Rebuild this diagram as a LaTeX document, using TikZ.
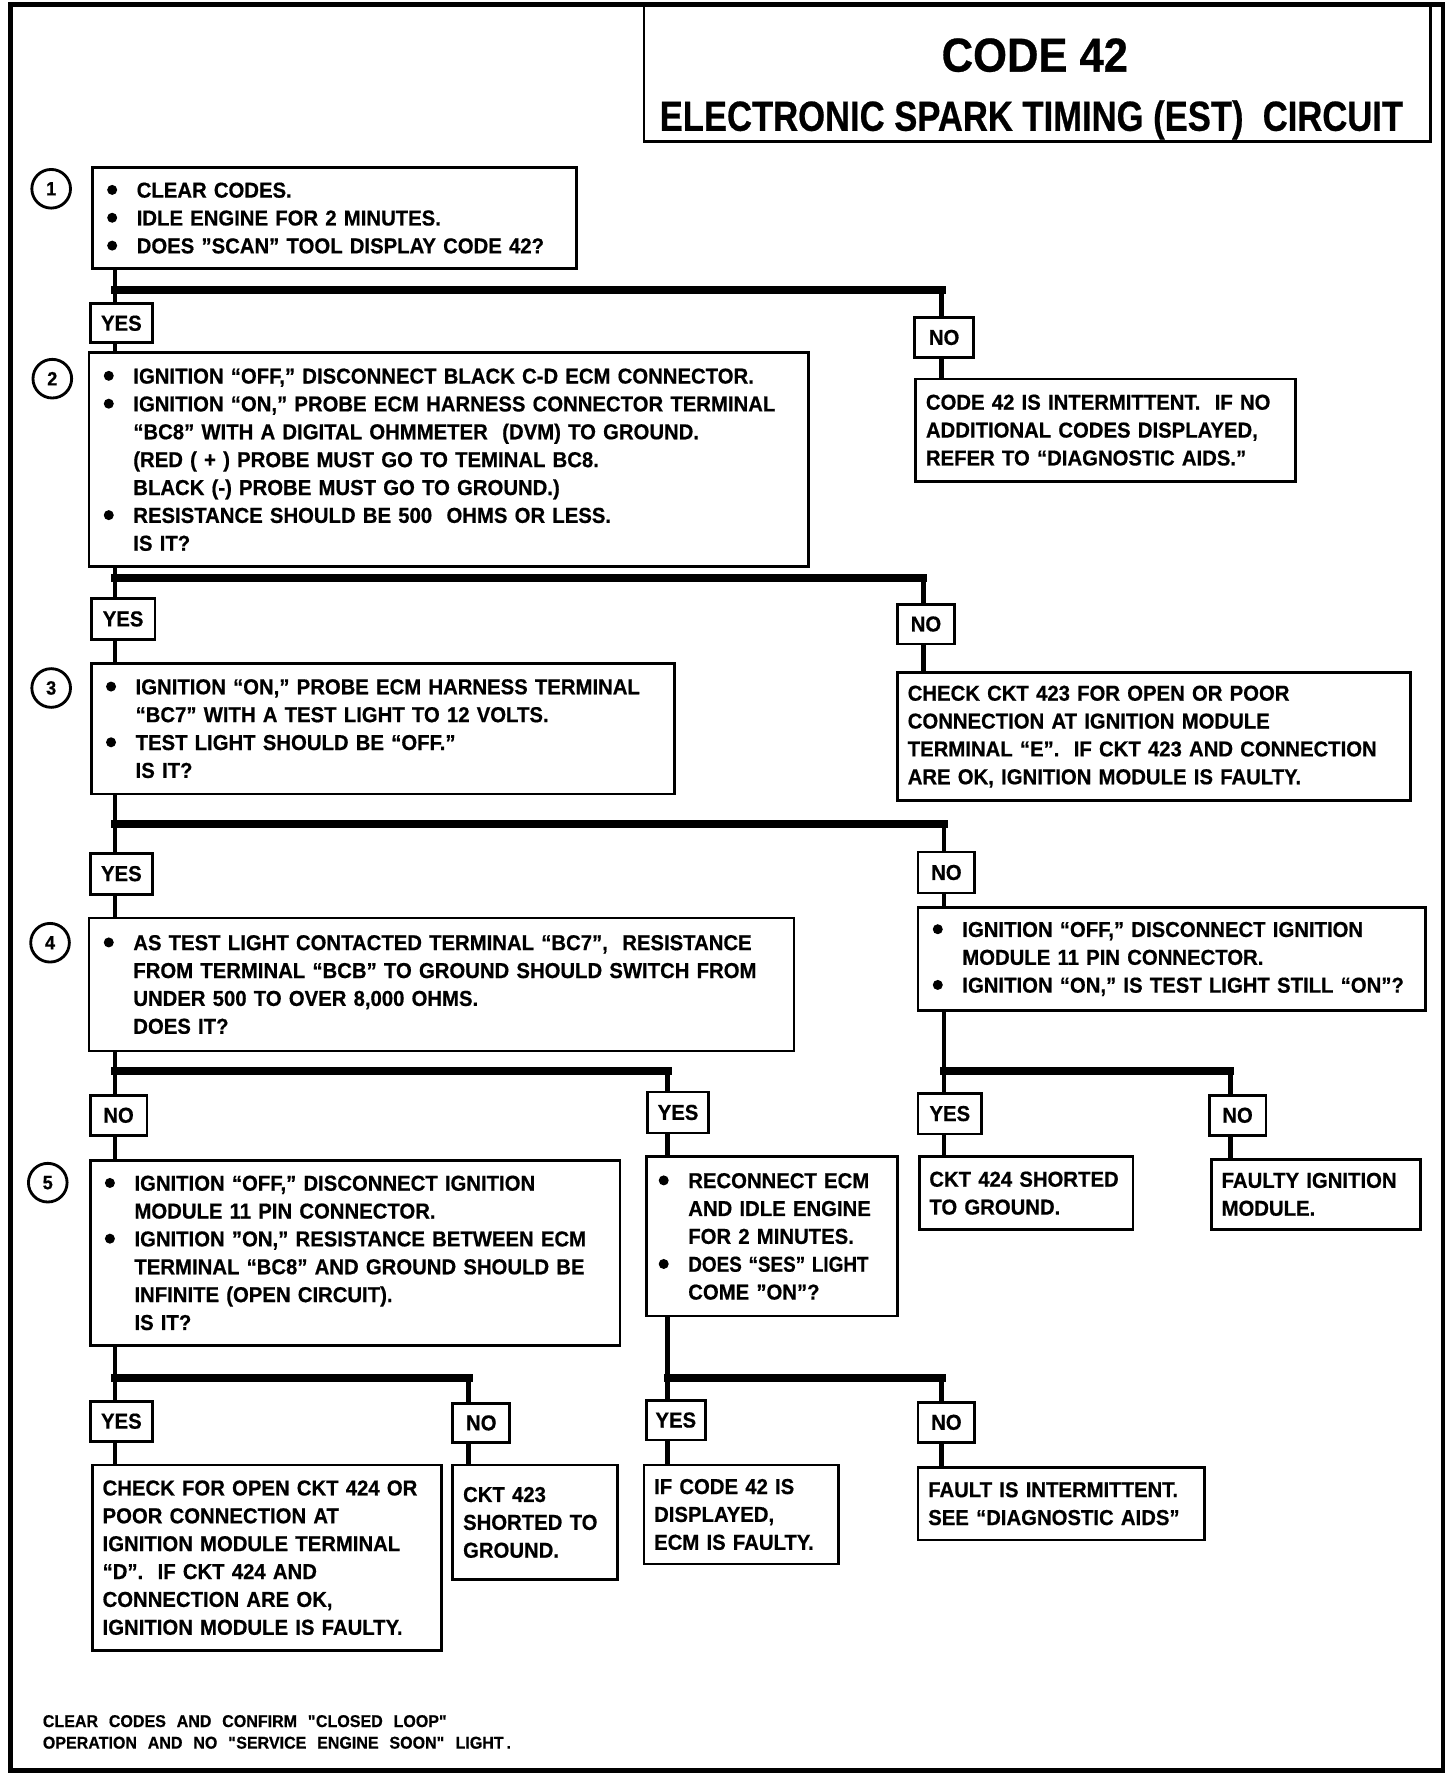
\documentclass[tikz,border=0pt]{standalone}
\usepackage{fontspec}
\setmainfont{Liberation Sans}[FakeStretch=0.94, BoldFeatures={FakeBold=0.6}]
\newcommand\bodyfont{\fontsize{19}{24.5}\selectfont\bfseries}
\newcommand\footfont{\fontsize{15}{19}\selectfont\bfseries\spaceskip=9.5pt\relax}
\newcommand\bu{\makebox[26pt][l]{\tikz[baseline=0pt]\fill (4.4pt,6.8pt) circle (4.4pt);}}
\newcommand\hg{\hspace*{26pt}}
\begin{document}
\begin{tikzpicture}[x=1pt,y=-1pt,
 box/.style={draw, line width=2.5pt, anchor=north west, inner ysep=0pt, align=left, font=\bodyfont},
 bbox/.style={box, inner xsep=13pt},
 pbox/.style={box, inner xsep=9pt},
 lab/.style={draw, line width=2.5pt, anchor=north west, inner sep=0pt, font=\bodyfont},
 vl/.style={line width=4pt},
 hb/.style={line width=7pt, line cap=rect},
 num/.style={draw, circle, line width=2.5pt, minimum size=34pt, inner sep=0pt, font=\fontsize{17}{17}\selectfont\bfseries}]
\useasboundingbox (0,0) rectangle (1280,1560);
% frame
\draw[line width=4pt] (9,4) rectangle (1269,1557);
\node[draw, line width=2.5pt, anchor=north west, minimum width=692pt, minimum height=119pt, inner sep=0pt] (tbox) at (565,4) {};
\node[anchor=base, font=\fontsize{42}{42}\selectfont\bfseries] (t1) at (910,63) {\scalebox{0.97}[1]{CODE 42}};
\node[anchor=base, font=\fontsize{37}{37}\selectfont\bfseries] (t2) at (907,115) {\scalebox{0.875}[1]{ELECTRONIC SPARK TIMING (EST)\ \ CIRCUIT}};
% step numbers
\node[num] (c1) at (45,166) {1};
\node[num] (c2) at (46,333) {2};
\node[num] (c3) at (45,605) {3};
\node[num] (c4) at (44,829) {4};
\node[num] (c5) at (42,1040) {5};
% boxes
\node[bbox, text width=400pt, minimum height=89pt] (b1) at (80,146)
 {\bu CLEAR CODES.\\ \bu IDLE ENGINE FOR 2 MINUTES.\\ \bu DOES ”SCAN” TOOL DISPLAY CODE 42?};
\node[bbox, text width=607pt, minimum height=188pt] (b2) at (77,309)
 {\bu IGNITION “OFF,” DISCONNECT BLACK C-D ECM CONNECTOR.\\
  \bu IGNITION “ON,” PROBE ECM HARNESS CONNECTOR TERMINAL\\
  \hg “BC8” WITH A DIGITAL OHMMETER\ \ (DVM) TO GROUND.\\
  \hg (RED ( + ) PROBE MUST GO TO TEMINAL BC8.\\
  \hg BLACK (-) PROBE MUST GO TO GROUND.)\\
  \bu RESISTANCE SHOULD BE 500\ \ OHMS OR LESS.\\
  \hg IS IT?};
\node[pbox, text width=316pt, minimum height=90pt] (n1) at (804,332)
 {CODE 42 IS INTERMITTENT.\ \ IF NO\\ ADDITIONAL CODES DISPLAYED,\\ REFER TO “DIAGNOSTIC AIDS.”};
\node[bbox, text width=487pt, minimum height=115pt] (b3) at (79,582)
 {\bu IGNITION “ON,” PROBE ECM HARNESS TERMINAL\\
  \hg “BC7” WITH A TEST LIGHT TO 12 VOLTS.\\
  \bu TEST LIGHT SHOULD BE “OFF.”\\
  \hg IS IT?};
\node[pbox, text width=433pt, minimum height=113pt] (n2) at (788,590)
 {CHECK CKT 423 FOR OPEN OR POOR\\ CONNECTION AT IGNITION MODULE\\ TERMINAL “E”.\ \ IF CKT 423 AND CONNECTION\\ ARE OK, IGNITION MODULE IS FAULTY.};
\node[bbox, text width=594pt, minimum height=117pt] (b4) at (77,806)
 {\bu AS TEST LIGHT CONTACTED TERMINAL “BC7”,\ \ RESISTANCE\\
  \hg FROM TERMINAL “BCB” TO GROUND SHOULD SWITCH FROM\\
  \hg UNDER 500 TO OVER 8,000 OHMS.\\
  \hg DOES IT?};
\node[bbox, text width=420pt, minimum height=90pt] (n3) at (806,797)
 {\bu IGNITION “OFF,” DISCONNECT IGNITION\\
  \hg MODULE 11 PIN CONNECTOR.\\
  \bu IGNITION “ON,” IS TEST LIGHT STILL “ON”?};
\node[bbox, text width=440pt, minimum height=163pt] (b5) at (78,1019)
 {\bu IGNITION “OFF,” DISCONNECT IGNITION\\
  \hg MODULE 11 PIN CONNECTOR.\\
  \bu IGNITION "ON," RESISTANCE BETWEEN ECM\\
  \hg TERMINAL “BC8” AND GROUND SHOULD BE\\
  \hg INFINITE (OPEN CIRCUIT).\\
  \hg IS IT?};
\node[bbox, inner xsep=11pt, text width=199pt, minimum height=140pt] (y4) at (567,1016)
 {\bu RECONNECT ECM\\ \hg AND IDLE ENGINE\\ \hg FOR 2 MINUTES.\\ \mbox{\bu \scalebox{0.93}[1]{DOES “SES” LIGHT}}\\ \hg COME "ON"?};
\node[pbox, text width=170pt, minimum height=64pt] (y3) at (807,1016)
 {CKT 424 SHORTED\\ TO GROUND.};
\node[pbox, text width=166pt, minimum height=62pt] (n4) at (1064,1018)
 {FAULTY IGNITION\\ MODULE.};
\node[pbox, text width=289pt, minimum height=163pt] (r1) at (80,1287)
 {CHECK FOR OPEN CKT 424 OR\\ POOR CONNECTION AT\\ IGNITION MODULE TERMINAL\\ “D”.\ \ IF CKT 424 AND\\ CONNECTION ARE OK,\\ IGNITION MODULE IS FAULTY.};
\node[pbox, text width=127pt, minimum height=101pt] (r2) at (397,1287)
 {CKT 423\\ SHORTED TO\\ GROUND.};
\node[pbox, text width=153pt, minimum height=87pt] (r3) at (565,1287)
 {IF CODE 42 IS\\ DISPLAYED,\\ ECM IS FAULTY.};
\node[pbox, text width=234pt, minimum height=64pt] (r4) at (806,1289)
 {FAULT IS INTERMITTENT.\\ SEE “DIAGNOSTIC AIDS”};
% yes / no labels
\node[lab, minimum width=55pt, minimum height=34pt] (l1y) at (78,266) {YES};
\node[lab, minimum width=52pt, minimum height=35pt] (l1n) at (803,278) {NO};
\node[lab, minimum width=56pt, minimum height=36pt] (l2y) at (79,525) {YES};
\node[lab, minimum width=50pt, minimum height=35pt] (l2n) at (788,530) {NO};
\node[lab, minimum width=55pt, minimum height=36pt] (l3y) at (78,749) {YES};
\node[lab, minimum width=50pt, minimum height=36pt] (l3n) at (806,748) {NO};
\node[lab, minimum width=50pt, minimum height=35pt] (l4n) at (78,962) {NO};
\node[lab, minimum width=54pt, minimum height=36pt] (l4y) at (568,959) {YES};
\node[lab, minimum width=56pt, minimum height=36pt] (l5y) at (806,960) {YES};
\node[lab, minimum width=50pt, minimum height=35pt] (l5n) at (1062,962) {NO};
\node[lab, minimum width=55pt, minimum height=35pt] (l6y) at (78,1231) {YES};
\node[lab, minimum width=50pt, minimum height=34pt] (l6n) at (397,1233) {NO};
\node[lab, minimum width=52pt, minimum height=35pt] (l7y) at (567,1230) {YES};
\node[lab, minimum width=50pt, minimum height=35pt] (l7n) at (806,1232) {NO};
% junction coordinates
\coordinate (j1) at (101,255); \coordinate (j1r) at (828,255);
\coordinate (j2) at (101,508); \coordinate (j2r) at (812,508);
\coordinate (j3) at (101,725); \coordinate (j3r) at (830,725);
\coordinate (j4) at (101,942); \coordinate (j4r) at (587,942);
\coordinate (j5) at (830,942); \coordinate (j5r) at (1082,942);
\coordinate (j6) at (101,1212); \coordinate (j6r) at (412,1212);
\coordinate (j7) at (587,1212); \coordinate (j7r) at (828,1212);
% connectors
\draw[vl] (b1.south -| j1) -- (l1y.north -| j1);
\draw[vl] (l1y.south -| j1) -- (b2.north -| j1);
\draw[hb] (j1) -- (j1r);
\draw[vl] (j1r) -- (l1n.north -| j1r);
\draw[vl] (l1n.south -| j1r) -- (n1.north -| j1r);

\draw[vl] (b2.south -| j2) -- (l2y.north -| j2);
\draw[vl] (l2y.south -| j2) -- (b3.north -| j2);
\draw[hb] (j2) -- (j2r);
\draw[vl] (j2r) -- (l2n.north -| j2r);
\draw[vl] (l2n.south -| j2r) -- (n2.north -| j2r);

\draw[vl] (b3.south -| j3) -- (l3y.north -| j3);
\draw[vl] (l3y.south -| j3) -- (b4.north -| j3);
\draw[hb] (j3) -- (j3r);
\draw[vl] (j3r) -- (l3n.north -| j3r);
\draw[vl] (l3n.south -| j3r) -- (n3.north -| j3r);

\draw[vl] (b4.south -| j4) -- (l4n.north -| j4);
\draw[vl] (l4n.south -| j4) -- (b5.north -| j4);
\draw[hb] (j4) -- (j4r);
\draw[vl] (j4r) -- (l4y.north -| j4r);
\draw[vl] (l4y.south -| j4r) -- (y4.north -| j4r);

\draw[vl] (n3.south -| j5) -- (l5y.north -| j5);
\draw[vl] (l5y.south -| j5) -- (y3.north -| j5);
\draw[hb] (j5) -- (j5r);
\draw[vl] (j5r) -- (l5n.north -| j5r);
\draw[vl] (l5n.south -| j5r) -- (n4.north -| j5r);

\draw[vl] (b5.south -| j6) -- (l6y.north -| j6);
\draw[vl] (l6y.south -| j6) -- (r1.north -| j6);
\draw[hb] (j6) -- (j6r);
\draw[vl] (j6r) -- (l6n.north -| j6r);
\draw[vl] (l6n.south -| j6r) -- (r2.north -| j6r);

\draw[vl] (y4.south -| j7) -- (l7y.north -| j7);
\draw[vl] (l7y.south -| j7) -- (r3.north -| j7);
\draw[hb] (j7) -- (j7r);
\draw[vl] (j7r) -- (l7n.north -| j7r);
\draw[vl] (l7n.south -| j7r) -- (r4.north -| j7r);
% footer
\node[anchor=north west, align=left, inner sep=0pt, font=\footfont] (foot) at (37.5,1508)
 {CLEAR CODES AND CONFIRM \textquotedbl CLOSED LOOP\textquotedbl\\ OPERATION AND NO \textquotedbl SERVICE ENGINE SOON\textquotedbl\ LIGHT\,.};
\end{tikzpicture}
\end{document}
